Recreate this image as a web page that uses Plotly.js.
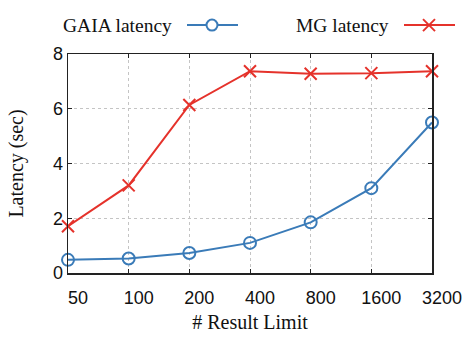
<!DOCTYPE html>
<html><head><meta charset="utf-8">
<script src="https://cdn.plot.ly/plotly-3.0.1.min.js"></script>
<style>html,body{margin:0;padding:0;background:#fff}#chart{width:470px;height:339px}</style>
</head><body><div id="chart"></div>
<script>
const categories = ["50","100","200","400","800","1600","3200"];
const gaiaLatency = [0.48, 0.53, 0.73, 1.1, 1.85, 3.1, 5.5];
const mgLatency = [1.71, 3.2, 6.14, 7.37, 7.28, 7.3, 7.37];
const seriesNames = ["GAIA latency", "MG latency"];
const blue = "#3a7bb8", red = "#e5322b";

const traces = [
  {x: categories, y: gaiaLatency, name: seriesNames[0], type: "scatter", mode: "lines+markers",
   cliponaxis: false, line: {color: blue, width: 2},
   marker: {symbol: "circle-open", size: 12, color: blue, line: {width: 2, color: blue}}},
  {x: categories, y: mgLatency, name: seriesNames[1], type: "scatter", mode: "lines+markers",
   cliponaxis: false, line: {color: red, width: 2},
   marker: {symbol: "x-thin-open", size: 12, color: red, line: {width: 2, color: red}}}
];

// legend (text then sample), placed in paper coordinates
const ly = 1.132;
function px(x){return (x-68)/364;}
const pxShape = (xa, x0, x1, y0, y1, extra) => Object.assign({xref:"paper", yref:"paper",
  xsizemode:"pixel", ysizemode:"pixel", xanchor:xa, yanchor:ly, x0:x0, x1:x1, y0:y0, y1:y1}, extra);
const shapes = [
  {type:"line", xref:"paper", yref:"paper", x0:px(187), x1:px(238), y0:ly, y1:ly, line:{color:blue,width:2}},
  {type:"line", xref:"paper", yref:"paper", x0:px(404), x1:px(455), y0:ly, y1:ly, line:{color:red,width:2}},
  pxShape(px(212), -5.5, 5.5, -5.5, 5.5, {type:"circle", fillcolor:"#fff", line:{color:blue,width:2}}),
  pxShape(px(429), -6, 6, -6, 6, {type:"line", line:{color:red,width:2}}),
  pxShape(px(429), -6, 6, 6, -6, {type:"line", line:{color:red,width:2}})
];

const serif = "Liberation Serif, Times New Roman, serif";
const sans = "Liberation Sans, Arial, sans-serif";
const layout = {
  width: 470, height: 339,
  margin: {l: 68, r: 38, t: 54, b: 66},
  paper_bgcolor: "#fff", plot_bgcolor: "#fff",
  showlegend: false,
  font: {family: sans, size: 18, color: "#111"},
  xaxis: {type: "category", range: [0, 6], showgrid: true, gridcolor: "#c4c4c4", griddash: "dot", gridwidth: 1,
    showline: true, linecolor: "#222", linewidth: 1.5, mirror: "ticks", ticks: "inside", ticklen: 4,
    tickcolor: "#222", zeroline: false, ticklabelstandoff: 8, ticklabelshift: 10,
    tickfont: {family: sans, size: 18, color: "#111"},
    title: {text: "# Result Limit", font: {family: serif, size: 20, color: "#111"}, standoff: 8}},
  yaxis: {range: [0, 8], dtick: 2, showgrid: true, gridcolor: "#c4c4c4", griddash: "dot", gridwidth: 1,
    showline: true, linecolor: "#222", linewidth: 1.5, mirror: "ticks", ticks: "inside", ticklen: 4,
    tickcolor: "#222", zeroline: false,
    tickfont: {family: sans, size: 18, color: "#111"},
    title: {text: "Latency (sec)", font: {family: serif, size: 20, color: "#111"}, standoff: 24}},
  shapes: shapes,
  annotations: [
    {xref:"paper", yref:"paper", x:px(174), y:ly, xanchor:"right", yanchor:"middle", showarrow:false,
     text: seriesNames[0], font:{family: serif, size:19.5, color:"#111"}},
    {xref:"paper", yref:"paper", x:px(391), y:ly, xanchor:"right", yanchor:"middle", showarrow:false,
     text: seriesNames[1], font:{family: serif, size:19.5, color:"#111"}}
  ]
};
Plotly.newPlot("chart", traces, layout, {displayModeBar: false, staticPlot: true});
</script></body></html>
